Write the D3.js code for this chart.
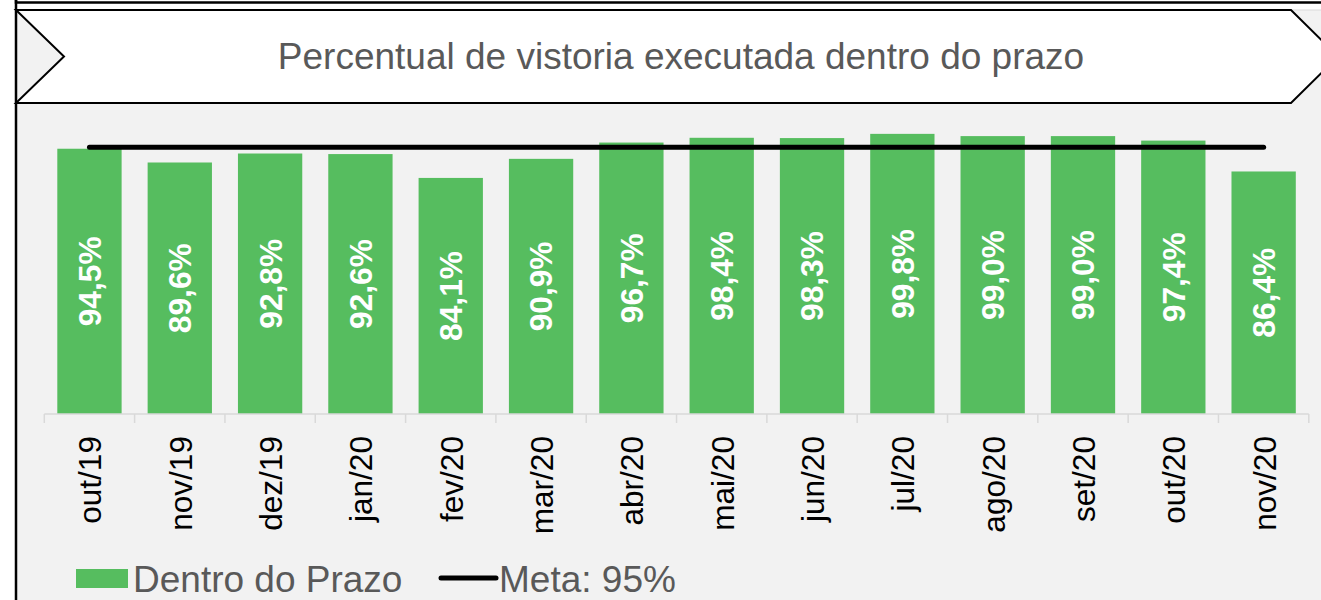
<!DOCTYPE html>
<html>
<head>
<meta charset="utf-8">
<script src="https://cdn.jsdelivr.net/npm/d3@7"></script>
<style>
  body { margin: 0; background: #fff; }
  svg { display: block; font-family: "Liberation Sans", Arial, sans-serif; }
</style>
</head>
<body>
<div id="chart"></div>
<script>
const months = ["out/19", "nov/19", "dez/19", "jan/20", "fev/20", "mar/20", "abr/20",
  "mai/20", "jun/20", "jul/20", "ago/20", "set/20", "out/20", "nov/20"];
const dentroPrazo = [94.5, 89.6, 92.8, 92.6, 84.1, 90.9, 96.7, 98.4, 98.3, 99.8, 99.0, 99.0, 97.4, 86.4];
const meta = [95, 95, 95, 95, 95, 95, 95, 95, 95, 95, 95, 95, 95, 95];
const title = "Percentual de vistoria executada dentro do prazo";
const legendLabels = ["Dentro do Prazo", "Meta: 95%"];

const width = 1321;
const height = 600;
const green = "#56bd5f";
const grey = "#595959";
const fmt = v => d3.format(".1f")(v).replace(".", ",") + "%";

const svg = d3.select("#chart")
  .append("svg")
  .attr("width", width)
  .attr("height", height);

// background panel
svg.append("rect")
  .attr("x", 16).attr("y", 10)
  .attr("width", width).attr("height", height)
  .attr("fill", "#f2f2f2")
  .attr("stroke", "#d9d9d9");

// top frame piece
svg.append("rect")
  .attr("x", 16).attr("y", -20)
  .attr("width", width + 20).attr("height", 22.5)
  .attr("fill", "#fff")
  .attr("stroke", "#000")
  .attr("stroke-width", 2.5);

svg.append("line")
  .attr("x1", 16).attr("x2", 16)
  .attr("y1", 0).attr("y2", height)
  .attr("stroke", "#000")
  .attr("stroke-width", 2.5);

// title banner (chevron)
const banner = [[16, 10], [1291, 10], [1338, 56.5], [1291, 103], [16, 103], [64, 56.5]];
svg.append("polygon")
  .attr("points", banner.map(p => p.join(",")).join(" "))
  .attr("fill", "#fff")
  .attr("stroke", "#000")
  .attr("stroke-width", 2);

svg.append("text")
  .attr("x", 681)
  .attr("y", 69)
  .attr("text-anchor", "middle")
  .attr("fill", grey)
  .style("font-size", "37px")
  .text(title);

const x = d3.scaleBand()
  .domain(months)
  .range([44.3, 1308.8])
  .paddingInner(0.288)
  .paddingOuter(0.144);

const y = d3.scaleLinear()
  .domain([0, 100])
  .range([414, 133.3]);

// bars
svg.append("g")
  .attr("fill", green)
  .selectAll("rect")
  .data(months)
  .join("rect")
  .attr("x", d => x(d))
  .attr("y", (d, i) => y(dentroPrazo[i]))
  .attr("width", x.bandwidth())
  .attr("height", (d, i) => y(0) - y(dentroPrazo[i]));

// axis line + boundary ticks
const half = (x.step() - x.bandwidth()) / 2;
const bounds = months.map(d => x(d) - half).concat([x(months[months.length - 1]) + x.bandwidth() + half]);
const axisG = svg.append("g").attr("stroke", "#d9d9d9").attr("stroke-width", 1.5);
axisG.append("line")
  .attr("x1", bounds[0]).attr("x2", bounds[bounds.length - 1])
  .attr("y1", y(0)).attr("y2", y(0));
axisG.selectAll("line.tick")
  .data(bounds)
  .join("line")
  .attr("class", "tick")
  .attr("x1", d => d).attr("x2", d => d)
  .attr("y1", y(0)).attr("y2", y(0) + 9);

// category labels
svg.append("g")
  .attr("transform", "translate(0,436)")
  .call(d3.axisBottom(x).tickSize(0).tickPadding(0))
  .call(g => g.select(".domain").remove())
  .selectAll("text")
  .attr("font-family", null)
  .attr("fill", "#000")
  .style("font-size", "31.6px")
  .attr("transform", "rotate(-90)")
  .attr("x", 0).attr("y", 0)
  .attr("dy", "0.38em")
  .style("text-anchor", "end");

// value labels inside bars
svg.append("g")
  .selectAll("text")
  .data(months)
  .join("text")
  .attr("transform", (d, i) => `translate(${x(d) + x.bandwidth() / 2},${(y(dentroPrazo[i]) + y(0)) / 2}) rotate(-90)`)
  .attr("text-anchor", "middle")
  .attr("dy", "0.36em")
  .attr("fill", "#fff")
  .attr("font-weight", "bold")
  .style("font-size", "31.7px")
  .text((d, i) => fmt(dentroPrazo[i]));

// meta line
const line = d3.line()
  .x(d => x(d[0]) + x.bandwidth() / 2)
  .y(d => y(d[1]));
svg.append("path")
  .datum(months.map((m, i) => [m, meta[i]]))
  .attr("d", line)
  .attr("fill", "none")
  .attr("stroke", "#000")
  .attr("stroke-width", 5)
  .attr("stroke-linecap", "round");

// legend
const lg = svg.append("g").style("font-size", "37px").attr("fill", grey);
lg.append("rect")
  .attr("x", 76).attr("y", 569)
  .attr("width", 52).attr("height", 19)
  .attr("fill", green);
lg.append("text")
  .attr("x", 133).attr("y", 592)
  .text(legendLabels[0]);
lg.append("line")
  .attr("x1", 441).attr("x2", 496)
  .attr("y1", 578).attr("y2", 578)
  .attr("stroke", "#000")
  .attr("stroke-width", 5)
  .attr("stroke-linecap", "round");
lg.append("text")
  .attr("x", 499).attr("y", 592)
  .text(legendLabels[1]);
</script>
</body>
</html>
